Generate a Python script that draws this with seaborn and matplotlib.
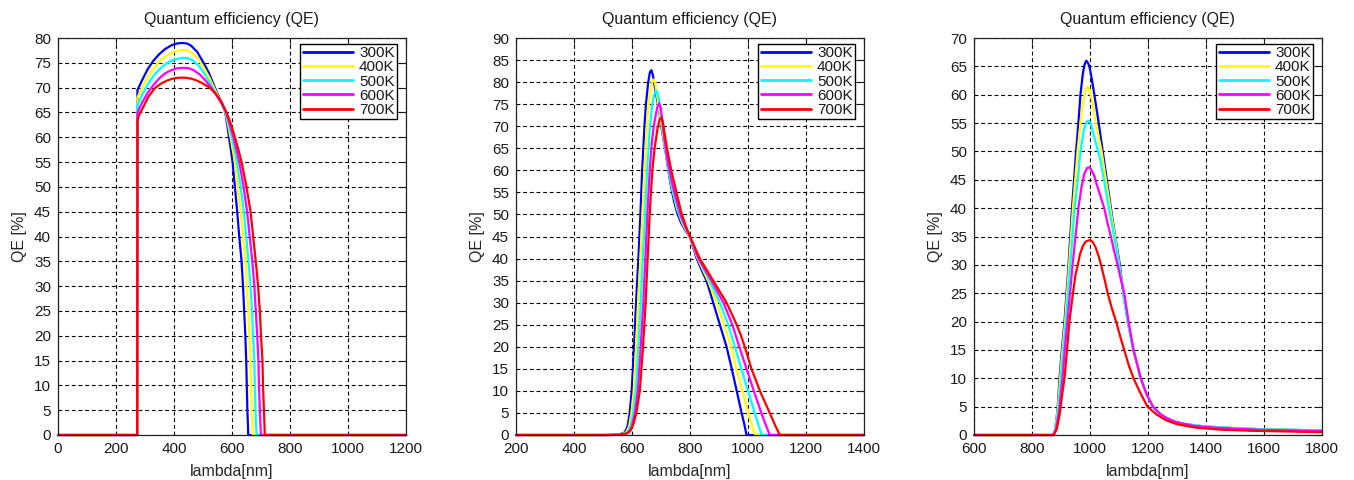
import matplotlib
matplotlib.use("Agg")
import matplotlib.pyplot as plt
import seaborn as sns
import pandas as pd

# ---------------- data ----------------
temps = ["300K", "400K", "500K", "600K", "700K"]
colors = ["#0000ff", "#ffff00", "#00ffff", "#ff00ff", "#ff0000"]

# Panel 1 (lambda 0..1200)
p1_x_300 = [0, 273, 274, 290, 310, 330, 350, 370, 390, 410, 428, 445, 460, 480, 500, 520, 541, 560, 577, 590, 602, 610, 618, 625, 633, 638, 642, 646, 649, 651, 653, 655, 656, 1200]
p1_y_300 = [0, 0, 69.5, 71.5, 73.8, 75.5, 76.8, 77.8, 78.5, 78.9, 79.0, 78.9, 78.4, 77.2, 75.2, 73.0, 70.0, 67.5, 65.0, 60, 55, 50, 45, 40, 35, 30, 25, 20, 15, 10, 5, 2, 0, 0]
p1_x_400 = [0, 273, 274, 290, 310, 330, 350, 370, 390, 410, 430, 447, 462, 482, 502, 522, 543, 562, 578, 595, 610, 620, 630, 637, 646, 651, 656, 660, 663, 666, 668, 670, 671, 1200]
p1_y_400 = [0, 0, 68.0, 70.0, 72.2, 73.9, 75.3, 76.3, 77.0, 77.4, 77.6, 77.5, 77.0, 75.9, 74.1, 72.0, 69.4, 67.1, 65.0, 60, 55, 50, 45, 40, 35, 30, 25, 20, 15, 10, 5, 2, 0, 0]
p1_x_500 = [0, 273, 274, 290, 310, 330, 350, 370, 390, 410, 432, 449, 464, 484, 504, 524, 545, 563, 579, 600, 617, 630, 641, 649, 657, 664, 669, 673, 677, 679, 681, 683, 685, 1200]
p1_y_500 = [0, 0, 66.5, 68.5, 70.7, 72.4, 73.7, 74.7, 75.4, 75.8, 76.0, 75.9, 75.5, 74.5, 72.9, 71.0, 68.7, 66.8, 65.0, 60, 55, 50, 45, 40, 35, 30, 25, 20, 15, 10, 5, 2, 0, 0]
p1_x_600 = [0, 273, 274, 290, 310, 330, 350, 370, 390, 410, 435, 452, 468, 488, 508, 528, 548, 565, 580, 605, 625, 640, 652, 661, 670, 677, 682, 687, 691, 693, 696, 698, 700, 1200]
p1_y_600 = [0, 0, 65.0, 67.0, 69.0, 70.6, 71.9, 72.9, 73.5, 73.9, 74.0, 73.9, 73.5, 72.7, 71.5, 70.0, 68.3, 66.7, 65.0, 60, 55, 50, 45, 40, 35, 30, 25, 20, 15, 10, 5, 2, 0, 0]
p1_x_700 = [0, 273, 274, 280, 295, 312, 334, 355, 375, 395, 415, 440, 460, 480, 500, 523, 545, 565, 581, 597, 610, 622, 633, 650, 664, 673, 682, 690, 696, 700, 705, 707, 710, 712, 713, 1200]
p1_y_700 = [0, 0, 63.5, 64.5, 66.2, 68.2, 69.9, 70.8, 71.4, 71.8, 72.0, 72.0, 71.8, 71.4, 70.8, 70.0, 68.7, 67.0, 65.0, 62.5, 60, 57.5, 55, 50, 45, 40, 35, 30, 25, 20, 15, 10, 5, 2, 0, 0]

# Panel 2 (lambda 200..1400)
p2_x_300 = [200, 510, 560, 575, 585, 592, 599, 607, 614, 622, 629, 635, 643, 648, 656, 662, 667, 672, 677, 684, 691, 702, 714, 722, 730, 737, 746, 756, 770, 785, 800, 812, 823, 840, 857, 880, 903, 926, 944, 961, 978, 987, 995, 1400]
p2_y_300 = [0, 0, 0.2, 0.6, 2, 5, 10, 20, 30, 40, 50, 60, 70, 75, 80, 82.3, 82.7, 81.6, 79.5, 77, 74.5, 69.5, 65, 61.5, 58, 55.5, 52.7, 50.3, 48, 46.3, 44.8, 42.3, 40, 37.4, 35, 30, 25, 20, 15, 10, 5, 2.5, 0, 0]
p2_x_400 = [200, 520, 565, 580, 590, 598, 606, 614, 621, 629, 636, 643, 651, 657, 665, 670, 675, 680, 688, 700, 712, 722, 736, 754, 775, 800, 826, 862, 892, 917, 942, 960, 981, 1001, 1012, 1024, 1400]
p2_y_400 = [0, 0, 0.2, 0.6, 2, 5, 10, 20, 30, 40, 50, 60, 70, 75, 79, 80.3, 80.6, 79.6, 76.3, 71, 66, 62, 56.5, 51.5, 47.8, 44.8, 40, 35, 30, 25, 20, 15, 10, 5, 2.5, 0, 0]
p2_x_500 = [200, 525, 570, 585, 595, 604, 613, 622, 630, 637, 645, 652, 662, 670, 677, 682, 686, 692, 697, 707, 717, 728, 742, 760, 780, 800, 828, 868, 903, 932, 955, 977, 1000, 1023, 1035, 1047, 1400]
p2_y_500 = [0, 0, 0.2, 0.6, 2, 5, 10, 20, 30, 40, 50, 60, 70, 75, 77.3, 77.9, 78, 76.5, 74, 69, 64, 59, 55, 50.5, 47.5, 45, 40, 35, 30, 25, 20, 15, 10, 5, 2.5, 0, 0]
p2_x_600 = [200, 530, 575, 590, 600, 610, 620, 630, 639, 646, 653, 661, 668, 675, 682, 688, 694, 699, 703, 712, 722, 735, 750, 767, 785, 800, 829, 874, 915, 946, 970, 995, 1020, 1046, 1060, 1075, 1400]
p2_y_600 = [0, 0, 0.2, 0.6, 2, 5, 10, 20, 30, 40, 50, 60, 66, 70, 72.6, 74.5, 75.2, 74.3, 72, 67, 62.5, 58, 54, 50, 47, 45, 40, 35, 30, 25, 20, 15, 10, 5, 2.5, 0, 0]
p2_x_700 = [200, 540, 580, 595, 605, 615, 627, 638, 647, 654, 661, 670, 678, 688, 695, 702, 707, 712, 722, 737, 754, 771, 786, 800, 817, 834, 857, 880, 903, 926, 945, 961, 976, 989, 1012, 1041, 1075, 1095, 1110, 1400]
p2_y_700 = [0, 0, 0.3, 1, 2.5, 5, 10, 20, 30, 40, 50, 60, 65, 69.5, 71.5, 72, 70.8, 68.5, 64.5, 59.5, 54.8, 50.2, 47.3, 45, 42.5, 40, 37.5, 35, 32.5, 30, 27.3, 25, 22.5, 20, 15, 10, 5, 2, 0, 0]

# Panel 3 (lambda 600..1800)
p3_x_300 = [600, 873, 880, 888, 895, 903, 912, 926, 938, 952, 960, 967, 975, 981, 987, 993, 998, 1006, 1015, 1030, 1044, 1058, 1072, 1087, 1103, 1115, 1130, 1150, 1175, 1195, 1217, 1240, 1260, 1290, 1320, 1360, 1400, 1500, 1600, 1800]
p3_y_300 = [0, 0, 1, 4.5, 10, 15, 20, 30, 40, 50, 55, 60, 63.6, 65.3, 66, 65.6, 65, 62.8, 60, 55, 50, 45, 40, 35, 30, 25, 20, 15, 10, 7.2, 5, 3.8, 3.1, 2.4, 2.0, 1.7, 1.5, 1.2, 1.0, 0.8]
p3_x_400 = [600, 873, 880, 889, 897, 905, 914, 928, 941, 957, 965, 975, 984, 992, 999, 1007, 1020, 1040, 1055, 1070, 1086, 1101, 1115, 1130, 1150, 1175, 1195, 1217, 1240, 1260, 1290, 1320, 1360, 1400, 1500, 1600, 1800]
p3_y_400 = [0, 0, 1, 4.5, 10, 15, 20, 30, 40, 50, 54, 58.5, 60.8, 61.4, 60.8, 59, 55, 50, 45, 40, 35, 30, 25, 20, 15, 10, 7.2, 5, 3.8, 3.1, 2.4, 2.0, 1.7, 1.5, 1.2, 1.0, 0.8]
p3_x_500 = [600, 873, 881, 891, 900, 908, 917, 932, 947, 958, 967, 978, 988, 995, 1002, 1010, 1020, 1036, 1050, 1065, 1083, 1100, 1115, 1130, 1150, 1175, 1195, 1217, 1240, 1260, 1290, 1320, 1360, 1400, 1500, 1600, 1800]
p3_y_500 = [0, 0, 1, 4.5, 10, 15, 20, 30, 40, 45, 50, 53.6, 55.2, 55.4, 55, 53.5, 51.5, 48.5, 44.5, 40, 35, 30, 25, 20, 15, 10, 7.2, 5, 3.8, 3.1, 2.4, 2.0, 1.7, 1.5, 1.2, 1.0, 0.8]
p3_x_600 = [600, 874, 883, 894, 905, 913, 922, 940, 950, 960, 970, 980, 990, 998, 1006, 1014, 1021, 1035, 1049, 1060, 1072, 1083, 1095, 1106, 1118, 1133, 1150, 1175, 1195, 1217, 1240, 1260, 1290, 1320, 1360, 1400, 1500, 1600, 1800]
p3_y_600 = [0, 0, 1, 4.5, 10, 15, 20, 30, 35, 40, 43.5, 46, 47.1, 47.2, 46.6, 45.8, 44.5, 42.3, 40, 37.5, 35, 32.5, 30, 27.5, 25, 20, 15, 10, 7.2, 5, 3.8, 3.1, 2.4, 2.0, 1.6, 1.4, 1.1, 0.9, 0.7]
p3_x_700 = [600, 875, 885, 895, 905, 912, 920, 929, 940, 950, 958, 965, 975, 985, 1000, 1010, 1020, 1030, 1038, 1050, 1061, 1075, 1090, 1104, 1118, 1133, 1150, 1170, 1198, 1230, 1262, 1300, 1365, 1450, 1550, 1650, 1800]
p3_y_700 = [0, 0, 1, 3.5, 7.5, 10, 14.5, 20, 24.5, 28.3, 30, 31.8, 33.3, 34.1, 34.4, 34, 33, 31.5, 30, 27.5, 25, 22.4, 20, 17.4, 15, 12.4, 10, 7.8, 5, 3.6, 2.6, 1.9, 1.3, 0.95, 0.75, 0.65, 0.5]

xlims = [(0, 1200), (200, 1400), (600, 1800)]
ylims = [(0, 80), (0, 90), (0, 70)]
title_text = "Quantum efficiency (QE)"
xlabel_text = "lambda[nm]"
ylabel_text = "QE [%]"

panels = [
    [(p1_x_300, p1_y_300), (p1_x_400, p1_y_400), (p1_x_500, p1_y_500), (p1_x_600, p1_y_600), (p1_x_700, p1_y_700)],
    [(p2_x_300, p2_y_300), (p2_x_400, p2_y_400), (p2_x_500, p2_y_500), (p2_x_600, p2_y_600), (p2_x_700, p2_y_700)],
    [(p3_x_300, p3_y_300), (p3_x_400, p3_y_400), (p3_x_500, p3_y_500), (p3_x_600, p3_y_600), (p3_x_700, p3_y_700)],
]

# ---------------- style ----------------
sns.set_style("white")
plt.rcParams["font.family"] = ["Liberation Sans", "DejaVu Sans"]
plt.rcParams["text.color"] = "#1a1a1a"

W, H = 1354, 480
fig = plt.figure(figsize=(W / 100, H / 100), dpi=100)
fig.patch.set_facecolor("white")
lefts = [58, 516, 974]
ax_w, ax_h, ax_b = 348, 397, 45

for i, series in enumerate(panels):
    ax = fig.add_axes([lefts[i] / W, ax_b / H, ax_w / W, ax_h / H])
    rows = []
    for t, (xs, ys) in zip(temps, series):
        for xv, yv in zip(xs, ys):
            rows.append({"lambda": xv, "QE": yv, "T": t})
    df = pd.DataFrame(rows)
    sns.lineplot(data=df, x="lambda", y="QE", hue="T", hue_order=temps,
                 palette=colors, estimator=None, sort=False,
                 linewidth=1.6, ax=ax, legend=True)
    for ln in ax.get_lines():
        ln.set_clip_on(False)

    ax.set_xlim(*xlims[i])
    ax.set_ylim(*ylims[i])
    ax.set_xticks(range(xlims[i][0], xlims[i][1] + 1, 200))
    ax.set_yticks(range(ylims[i][0], ylims[i][1] + 1, 5))
    ax.grid(True, color="black", linestyle=(0, (3.5, 2.5)), linewidth=0.8)
    ax.set_axisbelow(True)
    ax.tick_params(direction="in", length=4, width=0.8, top=True, right=True,
                   labelsize=11, colors="#1a1a1a", pad=5)
    for sp in ax.spines.values():
        sp.set_color("#222222")
        sp.set_linewidth(0.9)
        sp.set_visible(True)
    ax.set_title(title_text, fontsize=11.5, pad=10, color="#1a1a1a")
    ax.set_xlabel(xlabel_text, fontsize=11.5, labelpad=6)
    ax.set_ylabel(ylabel_text, fontsize=11.5, labelpad=5)

    handles, labels = ax.get_legend_handles_labels()
    for h in handles:
        h.set_linewidth(2)
    leg = ax.legend(handles, labels, loc="upper right",
                    bbox_to_anchor=(1 - 9 / ax_w, 1 - 6 / ax_h), borderaxespad=0,
                    fontsize=11, frameon=True, fancybox=False, framealpha=1,
                    edgecolor="black", handlelength=3.3, handletextpad=0.4,
                    labelspacing=0.01, borderpad=0.15, title=None)
    leg.get_frame().set_linewidth(1.0)

fig.savefig("out.png", dpi=100, facecolor="white")
